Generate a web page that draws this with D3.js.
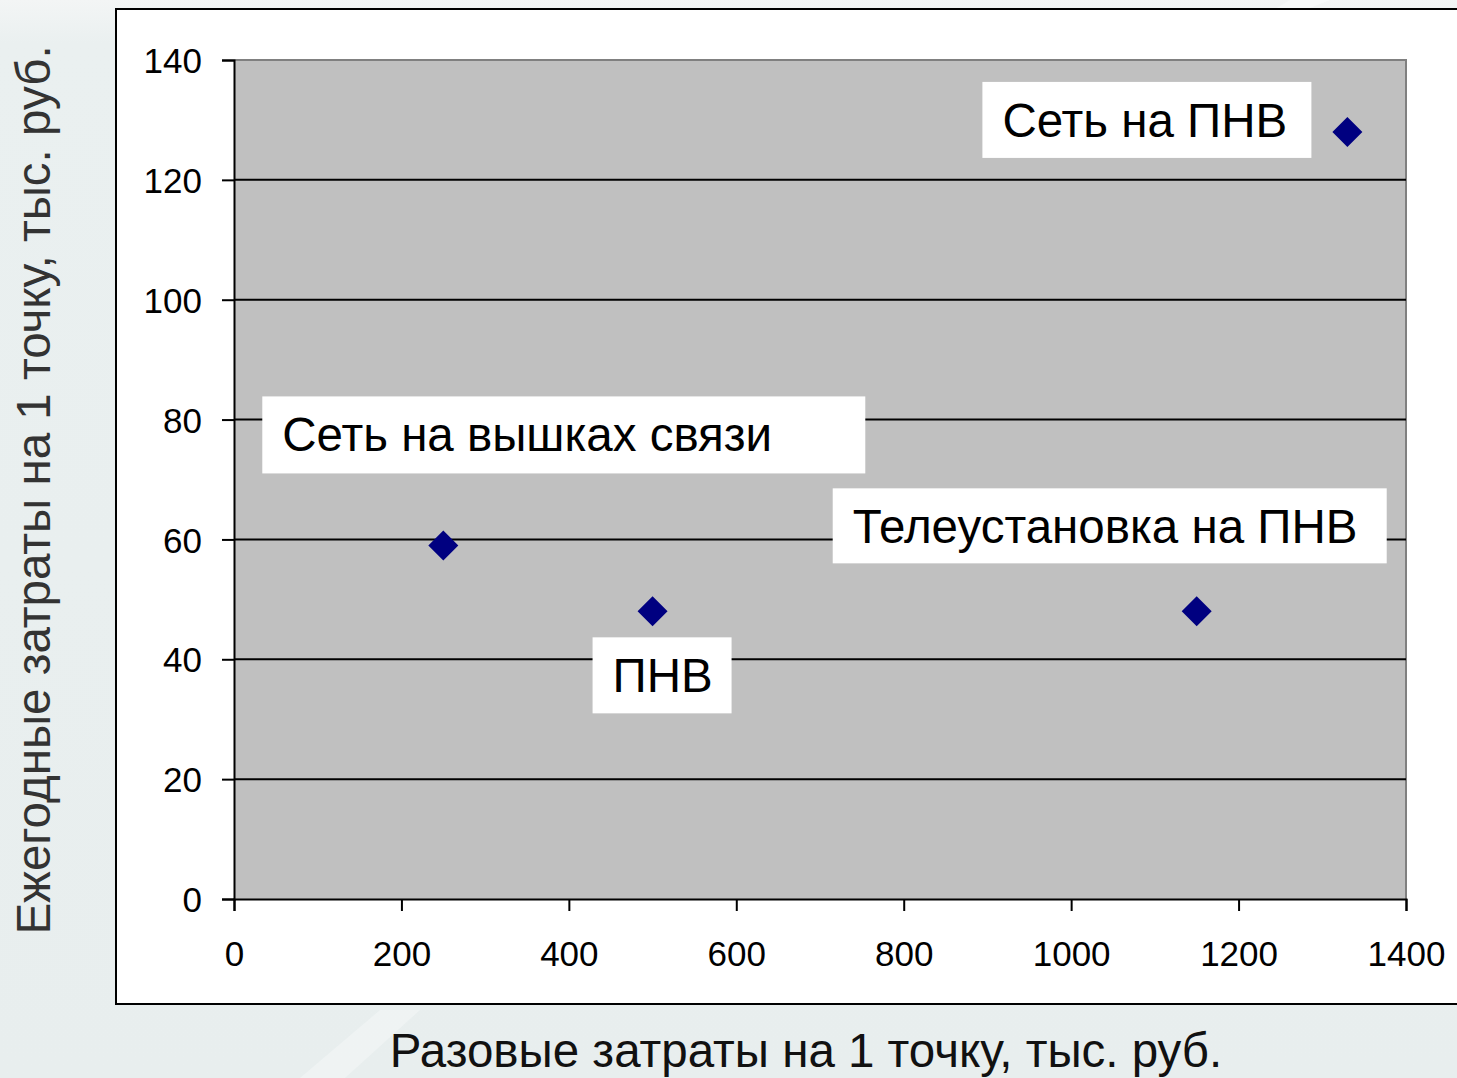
<!DOCTYPE html>
<html>
<head>
<meta charset="utf-8">
<script src="https://cdn.jsdelivr.net/npm/d3@7"></script>
<style>
  html, body { margin: 0; padding: 0; background: #eaf0f0; }
  svg { display: block; font-family: "Liberation Sans", Arial, sans-serif; }
</style>
</head>
<body>
<svg id="chart" width="1457" height="1078"></svg>
<script>
// Point data: one-off cost (x) vs annual cost (y), thousand roubles per point
const pointNames = ["Сеть на вышках связи", "ПНВ", "Телеустановка на ПНВ", "Сеть на ПНВ"];
const oneOffCost = [250, 500, 1150, 1330];
const annualCost = [59, 48, 48, 128];

// Axis ticks
const xTicks = [0, 200, 400, 600, 800, 1000, 1200, 1400];
const yTicks = [0, 20, 40, 60, 80, 100, 120, 140];

const xTitle = "Разовые затраты на 1 точку, тыс. руб.";
const yTitle = "Ежегодные затраты на 1 точку, тыс. руб.";

// Placement of each label box relative to its marker (pixels)
const labelLayout = [
  { dx: -181, dy: -149, w: 603, h: 77 },
  { dx: -60,  dy: 26,   w: 139, h: 76 },
  { dx: -364, dy: -123, w: 554, h: 75 },
  { dx: -365, dy: -50,  w: 329, h: 76 }
];

const FONT = "'Liberation Sans', Arial, sans-serif";
const W = 1457, H = 1078;
const svg = d3.select("#chart");

// Slide background with soft light streaks
const defs = svg.append("defs");
const bg = defs.append("linearGradient").attr("id", "bgGrad")
  .attr("x1", 0).attr("y1", 0).attr("x2", 0).attr("y2", 1);
bg.append("stop").attr("offset", "0").attr("stop-color", "#f3f5f5");
bg.append("stop").attr("offset", "0.04").attr("stop-color", "#eaf0f0");
bg.append("stop").attr("offset", "1").attr("stop-color", "#e8eeee");
svg.append("rect").attr("width", W).attr("height", H).attr("fill", "url(#bgGrad)");
svg.append("path")
  .attr("d", "M300,1078 L380,1010 L420,1010 L345,1078 Z")
  .attr("fill", "#f3f6f6").attr("opacity", 0.6);
svg.append("path")
  .attr("d", "M1290,0 L1330,0 L1300,12 L1270,12 Z")
  .attr("fill", "#f8fafa").attr("opacity", 0.8);

// White chart frame
svg.append("rect")
  .attr("x", 116).attr("y", 9).attr("width", W).attr("height", 995)
  .attr("fill", "#ffffff").attr("stroke", "#000").attr("stroke-width", 2);

// Plot area
const plot = { left: 234, right: 1406, top: 60, bottom: 899 };
const x = d3.scaleLinear().domain([0, 1400]).range([plot.left, plot.right]);
const y = d3.scaleLinear().domain([0, 140]).range([plot.bottom, plot.top]);

svg.append("rect")
  .attr("x", plot.left).attr("y", plot.top)
  .attr("width", plot.right - plot.left).attr("height", plot.bottom - plot.top)
  .attr("fill", "#c0c0c0");

// Gray plot border on top and right
svg.append("path")
  .attr("d", `M${plot.left},${plot.top} H${plot.right} V${plot.bottom}`)
  .attr("fill", "none").attr("stroke", "#808080").attr("stroke-width", 2);

// Horizontal gridlines
svg.append("g").selectAll("line")
  .data(yTicks.filter(v => v > 0 && v < 140))
  .join("line")
  .attr("x1", plot.left).attr("x2", plot.right)
  .attr("y1", d => y(d)).attr("y2", d => y(d))
  .attr("stroke", "#000").attr("stroke-width", 2);

// Y axis
const yAxis = svg.append("g")
  .attr("transform", `translate(${plot.left},0)`)
  .call(d3.axisLeft(y).tickValues(yTicks).tickSize(12).tickPadding(20).tickFormat(d3.format("d")));
yAxis.select(".domain").attr("stroke", "#000").attr("stroke-width", 2);
yAxis.selectAll(".tick line").attr("stroke", "#000").attr("stroke-width", 2);
yAxis.selectAll(".tick text")
  .attr("font-size", 35).attr("fill", "#000")
  .attr("font-family", FONT)
  .attr("dy", "0.36em");

// X axis
const xAxis = svg.append("g")
  .attr("transform", `translate(0,${plot.bottom})`)
  .call(d3.axisBottom(x).tickValues(xTicks).tickSize(12).tickPadding(30).tickFormat(d3.format("d")));
xAxis.select(".domain").attr("stroke", "#000").attr("stroke-width", 2);
xAxis.selectAll(".tick line").attr("stroke", "#000").attr("stroke-width", 2);
xAxis.selectAll(".tick text")
  .attr("font-size", 35).attr("fill", "#000")
  .attr("font-family", FONT);

// Data labels in white boxes
const pts = pointNames.map((name, i) => ({
  name, xv: oneOffCost[i], yv: annualCost[i], lay: labelLayout[i]
}));

const labels = svg.append("g").selectAll("g").data(pts).join("g")
  .attr("transform", d => `translate(${x(d.xv) + d.lay.dx},${y(d.yv) + d.lay.dy})`);
labels.append("rect")
  .attr("width", d => d.lay.w).attr("height", d => d.lay.h)
  .attr("fill", "#ffffff");
labels.append("text")
  .attr("x", 20).attr("y", 55)
  .attr("font-size", 47.5).attr("fill", "#000")
  .attr("font-family", FONT)
  .text(d => d.name);

// Diamond markers
const diamond = d3.symbol().type(d3.symbolSquare).size(450);
svg.append("g").selectAll("path").data(pts).join("path")
  .attr("d", diamond)
  .attr("transform", d => `translate(${x(d.xv)},${y(d.yv)}) rotate(45)`)
  .attr("fill", "#000080");

// Axis titles
svg.append("text")
  .attr("x", 806).attr("y", 1067)
  .attr("text-anchor", "middle")
  .attr("font-size", 47.5).attr("fill", "#111")
  .attr("font-family", FONT)
  .text(xTitle);

svg.append("text")
  .attr("transform", "translate(50,490) rotate(-90)")
  .attr("text-anchor", "middle")
  .attr("font-size", 47.5).attr("fill", "#333")
  .attr("font-family", FONT)
  .text(yTitle);
</script>
</body>
</html>
